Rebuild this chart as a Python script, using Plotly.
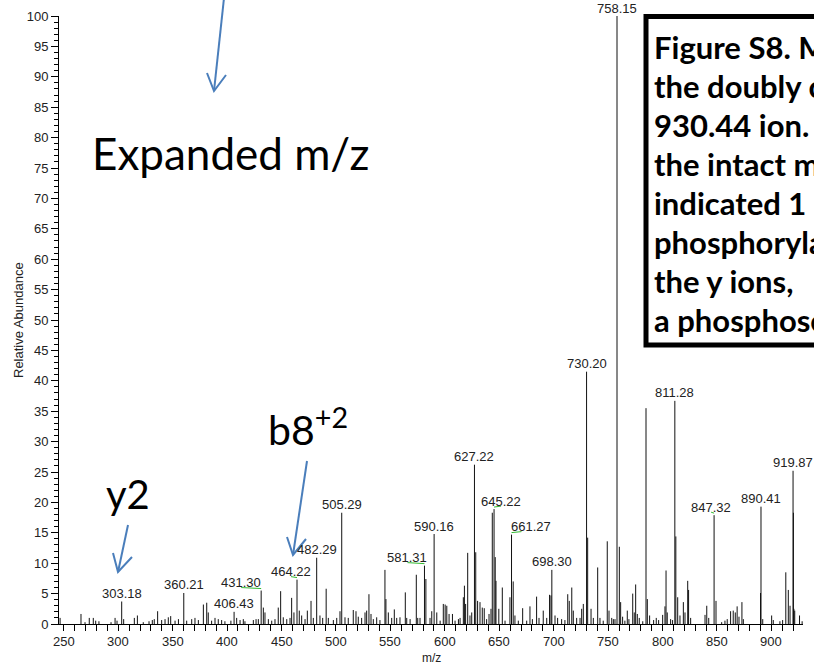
import plotly.graph_objects as go

# ---------------- data ----------------
peak_mz = [246.6, 265.8, 269.5, 273.4, 277.1, 279.3, 282.3, 293.4, 297.1, 298.9,
           303.18, 305.0, 314.8, 317.6, 323.0, 328.3, 331.3, 333.1, 336.2, 339.9,
           343.0, 346.0, 348.2, 352.2, 355.3, 360.21, 362.9, 367.5, 370.5, 373.6,
           378.2, 381.3, 382.7, 385.8, 388.9, 391.9, 395.0, 398.0, 403.5, 406.43,
           408.8, 411.9, 414.9, 416.4, 424.1, 426.6, 428.7, 431.30, 433.3, 434.8,
           437.9, 441.0, 444.0, 447.0, 449.2, 451.6, 454.8, 457.8, 459.3, 461.4,
           464.22, 466.3, 468.5, 471.6, 473.7, 477.1, 479.2, 482.29, 485.3, 487.8,
           491.0, 493.0, 497.6, 500.7, 503.7, 505.29, 508.3, 511.3, 515.9, 518.4,
           520.5, 523.6, 526.7, 528.2, 530.3, 532.2, 534.3, 537.4, 540.4, 545.0,
           545.9, 548.1, 551.2, 553.6, 555.8, 558.8, 563.7, 565.0, 568.1, 573.8,
           575.1, 577.2, 581.31, 582.6, 586.4, 588.0, 590.16, 592.6, 595.7, 598.6,
           600.3, 601.8, 603.9, 607.0, 609.4, 612.5, 614.0, 617.0, 618.0, 619.1,
           621.0, 623.1, 624.7, 627.22, 628.4, 630.1, 632.3, 634.4, 636.2, 638.4,
           640.6, 642.4, 643.6, 645.22, 646.3, 647.0, 649.6, 652.8, 655.3, 659.8,
           661.27, 662.8, 664.4, 667.5, 671.5, 675.2, 678.2, 680.4, 684.3, 686.5,
           690.4, 693.6, 696.2, 697.5, 698.30, 701.2, 703.6, 707.3, 710.3, 712.9,
           714.3, 716.6, 718.0, 721.1, 724.2, 725.7, 727.2, 730.20, 731.2, 734.3,
           736.4, 740.4, 742.5, 745.5, 749.2, 750.8, 753.3, 754.8, 756.3, 758.15,
           760.3, 761.5, 763.3, 765.4, 767.6, 769.1, 772.6, 774.0, 775.3, 776.8,
           778.6, 781.8, 784.8, 786.0, 788.1, 791.8, 794.2, 796.4, 800.1, 802.2,
           803.2, 804.3, 807.4, 809.2, 811.28, 812.2, 813.9, 816.0, 819.1, 820.6,
           823.1, 823.9, 825.8, 839.0, 840.6, 842.4, 847.32, 849.1, 854.3, 857.3,
           859.4, 862.5, 864.9, 866.8, 868.5, 870.2, 872.9, 874.2, 890.0, 890.41,
           892.0, 900.2, 901.7, 907.8, 910.3, 913.2, 915.5, 917.1, 919.87, 920.2,
           920.6, 921.4, 925.8, 928.2]
peak_int = [1.0, 1.65, 0.3, 1.0, 1.0, 0.55, 0.45, 0.3, 1.0, 0.55,
            3.7, 0.8, 1.0, 1.4, 0.3, 0.45, 0.65, 0.8, 2.1, 0.65,
            0.8, 1.1, 1.3, 0.55, 0.8, 5.1, 0.55, 0.8, 1.0, 0.65,
            3.2, 3.5, 1.9, 0.55, 1.0, 0.8, 0.65, 0.45, 0.55, 2.0,
            1.0, 0.65, 0.8, 0.45, 0.65, 0.8, 0.8, 5.5, 2.7, 1.9,
            0.8, 0.55, 0.8, 2.7, 5.4, 1.1, 0.8, 1.0, 4.3, 1.9,
            7.3, 2.2, 1.4, 0.8, 2.2, 3.8, 1.0, 10.9, 1.4, 1.0,
            5.8, 1.0, 0.65, 1.0, 2.1, 18.3, 1.1, 1.0, 2.3, 2.1,
            1.2, 1.0, 1.9, 2.2, 4.9, 1.65, 0.8, 1.1, 0.65, 8.9,
            4.1, 1.9, 1.0, 2.4, 1.0, 1.1, 5.2, 1.0, 0.8, 8.1,
            1.0, 1.0, 9.6, 7.4, 1.0, 2.1, 14.8, 1.9, 0.55, 3.3,
            3.2, 3.0, 1.65, 1.65, 0.55, 0.8, 1.0, 4.4, 6.3, 3.3,
            11.7, 1.4, 1.9, 26.2, 11.8, 3.8, 3.6, 2.7, 2.6, 0.8,
            1.65, 2.5, 18.3, 18.9, 11.0, 7.1, 2.5, 6.0, 0.55, 4.4,
            14.7, 7.0, 1.4, 0.55, 2.6, 0.55, 2.9, 0.8, 4.5, 1.0,
            2.2, 1.0, 4.8, 4.7, 8.9, 1.4, 1.0, 0.8, 0.65, 4.9,
            3.8, 6.0, 2.2, 1.0, 1.0, 2.5, 3.3, 41.5, 14.2, 2.5,
            1.0, 9.3, 1.0, 0.55, 13.6, 2.2, 1.0, 0.8, 0.8, 100.0,
            12.7, 3.6, 1.2, 0.55, 2.2, 0.8, 5.0, 1.9, 6.5, 1.65,
            1.0, 0.45, 35.5, 4.1, 1.4, 0.65, 1.0, 0.65, 1.5, 2.9,
            8.8, 1.9, 0.8, 0.65, 36.7, 14.4, 4.4, 1.4, 3.6, 1.9,
            7.1, 5.6, 1.0, 1.5, 3.0, 1.0, 17.9, 3.8, 0.3, 0.55,
            0.8, 2.1, 2.2, 1.9, 2.9, 1.2, 3.6, 0.8, 5.1, 19.3,
            0.8, 1.4, 0.65, 0.45, 0.65, 8.5, 5.6, 3.0, 25.2, 18.3,
            2.5, 2.2, 1.4, 0.45]

label_mz = [303.18, 360.21, 406.43, 431.30, 464.22, 482.29, 505.29, 581.31, 590.16,
            627.22, 645.22, 661.27, 698.30, 730.20, 758.15, 811.28, 847.32, 890.41, 919.87]
label_text = ["303.18", "360.21", "406.43", "431.30", "464.22", "482.29", "505.29", "581.31",
              "590.16", "627.22", "645.22", "661.27", "698.30", "730.20", "758.15", "811.28",
              "847.32", "890.41", "919.87"]
label_dx = [0, 0, 0, -20, -6, 0, 0, -17, 0, 0, 7, 19, 0, 0, 0, 0, -3, 0, 0]
leader_to = [0, 0, 0, -20, -6, 0, 0, -17, 0, 0, 7, 10, 0, 0, 0, 0, -3, 0, 0]

y_ticks = list(range(0, 101, 5))
x_ticks = list(range(250, 901, 50))

box_lines = ["Figure S8. MS/MS spectrum of", "the doubly charged m/z",
             "930.44 ion. Fragmentation of", "the intact molecule",
             "indicated 1", "phosphorylation", "the y ions, ", "a phosphoserine"]

# ---------------- layout helpers ----------------
W, H = 814, 667
L, R, T, B = 59, 11, 16, 43
PW, PH = W - L - R, H - T - B


def px(x):
    return (x - L) / PW


def py(y):
    return (H - B - y) / PH


xs, ys = [], []
for m, h in zip(peak_mz, peak_int):
    xs += [m, m, None]
    ys += [0, h, None]

fig = go.Figure()
fig.add_trace(go.Scatter(x=xs, y=ys, mode="lines",
                         line=dict(color="#111111", width=1),
                         hoverinfo="skip", showlegend=False))

axis_font = dict(family="Liberation Sans, Arial", size=13, color="#222222")

ann = []
shapes = []
hmap = dict(zip(peak_mz, peak_int))
for m, t, dx, lt in zip(label_mz, label_text, label_dx, leader_to):
    h = hmap[m]
    ann.append(dict(x=m, y=h, xref="x", yref="y", text=t, showarrow=False,
                    xanchor="center", yanchor="middle", xshift=dx, yshift=8,
                    font=axis_font))
    if lt != 0:
        shapes.append(dict(type="line", xref="x", yref="y", xsizemode="pixel",
                           ysizemode="pixel", xanchor=m, yanchor=h,
                           x0=lt, x1=0, y0=3, y1=2,
                           line=dict(color="#33bb33", width=1)))

# x tick labels and axis titles
for v in x_ticks:
    ann.append(dict(x=v, y=0, xref="x", yref="y", text=str(v), showarrow=False,
                    xanchor="center", yanchor="middle", yshift=-17, font=axis_font))
ann.append(dict(x=0.5, y=0, xref="paper", yref="paper", text="m/z", showarrow=False,
                xanchor="center", yanchor="middle", yshift=-34,
                font=dict(family="Liberation Sans, Arial", size=12, color="#222222")))
ann.append(dict(x=0, y=0.5, xref="paper", yref="paper", text="Relative Abundance",
                showarrow=False, textangle=-90, xanchor="center", yanchor="middle",
                xshift=-41,
                font=dict(family="Liberation Sans, Arial", size=13, color="#222222")))

# text annotations (Calibri-like)
ann.append(dict(x=px(90), y=py(153), xref="paper", yref="paper", text="Expanded m/z",
                showarrow=False, xanchor="left", yanchor="middle",
                font=dict(family="Lato", size=44, color="#000000")))
ann.append(dict(x=px(104), y=py(494), xref="paper", yref="paper", text="y2",
                showarrow=False, xanchor="left", yanchor="middle",
                font=dict(family="Lato", size=40, color="#000000")))
ann.append(dict(x=px(266), y=py(427), xref="paper", yref="paper",
                text="b8<sup>+2</sup>",
                showarrow=False, xanchor="left", yanchor="middle",
                font=dict(family="Lato", size=41, color="#000000")))

for i, line in enumerate(box_lines):
    ann.append(dict(x=px(652), y=py(47 + 39 * i), xref="paper", yref="paper", text=line,
                    showarrow=False, xanchor="left", yanchor="middle",
                    font=dict(family="Lato", size=31, color="#000000", weight="bold")))

# box
shapes.append(dict(type="rect", xref="paper", yref="paper",
                   x0=px(646), x1=px(960), y0=py(345), y1=py(16.5),
                   line=dict(color="#000000", width=5), fillcolor="rgba(255,255,255,0)",
                   layer="above"))

# blue arrows
blue = "#4A7EBB"
arrows = [((224, -2), (214, 91), (207, 73), (226, 75)),
          ((128, 525), (118, 572), (113, 553), (132, 557)),
          ((307, 461), (293, 555), (287, 537), (306, 539))]
for s, tip, a1, a2 in arrows:
    shapes.append(dict(type="line", xref="paper", yref="paper",
                       x0=px(s[0]), y0=py(s[1]), x1=px(tip[0]), y1=py(tip[1]),
                       line=dict(color=blue, width=2)))
    path = "M {} {} L {} {} L {} {}".format(px(a1[0]), py(a1[1]), px(tip[0]), py(tip[1]),
                                          px(a2[0]), py(a2[1]))
    shapes.append(dict(type="path", xref="paper", yref="paper", path=path,
                       line=dict(color=blue, width=2)))

fig.update_layout(
    width=W, height=H,
    margin=dict(l=L, r=R, t=T, b=B, pad=0, autoexpand=False),
    paper_bgcolor="white", plot_bgcolor="white",
    font=axis_font,
    annotations=ann, shapes=shapes,
    xaxis=dict(range=[245.6, 929], tickvals=x_ticks, ticks="outside", ticklen=6,
               tickcolor="#000000", showline=True, linecolor="#000000", linewidth=1,
               showgrid=False, zeroline=False, showticklabels=False, automargin=False,
               minor=dict(dtick=10, tick0=0, ticks="outside", ticklen=6, tickcolor="#000000")),
    yaxis=dict(range=[0, 100], tickvals=y_ticks, ticks="outside", ticklen=7,
               tickcolor="#000000", showline=True, linecolor="#000000", linewidth=1,
               showgrid=False, zeroline=False, tickfont=axis_font, automargin=False,
               minor=dict(dtick=1, tick0=0, ticks="outside", ticklen=4, tickcolor="#000000")),
)

fig.write_html("out.html")
